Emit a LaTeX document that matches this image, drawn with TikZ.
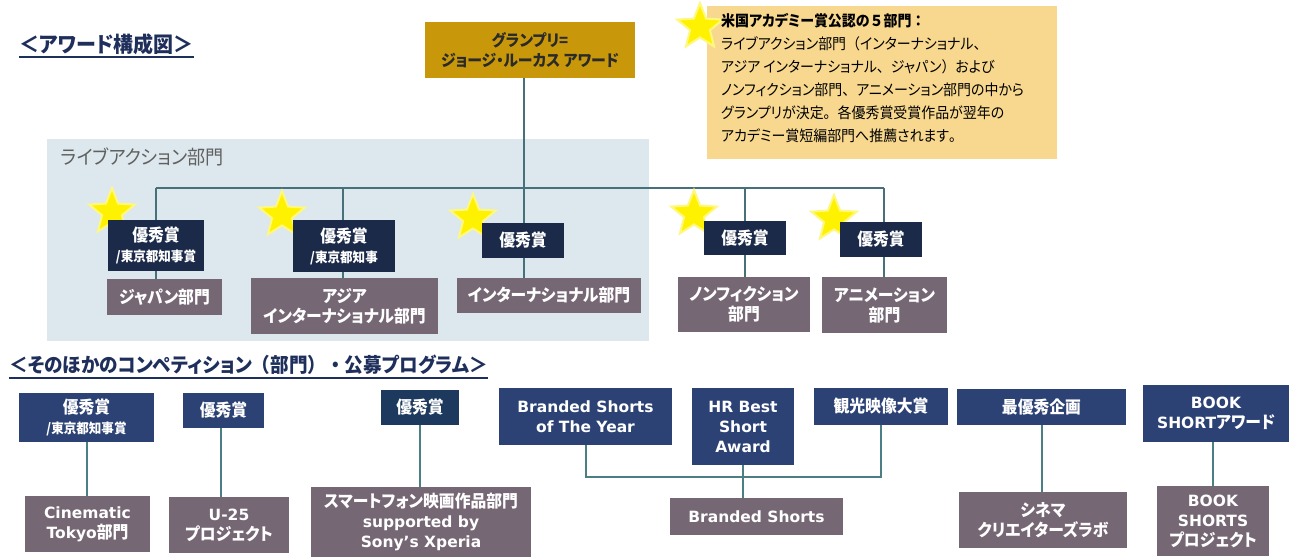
\documentclass[tikz,border=0pt]{standalone}
\usepackage{fontspec}
\setmainfont{Noto Sans CJK JP}[RawFeature=+palt, FakeStretch=0.93]
\newfontfamily\jpfull{Noto Sans CJK JP}[FakeStretch=0.93]
\newfontfamily\lat{DejaVu Sans}
\usetikzlibrary{shapes.geometric}
\definecolor{navyA}{HTML}{1C2A4A}
\definecolor{navyB}{HTML}{2C4275}
\definecolor{navyC}{HTML}{1D3A5E}
\definecolor{mauve}{HTML}{766775}
\definecolor{goldbox}{HTML}{C9980A}
\definecolor{notefill}{HTML}{F7D88E}
\definecolor{bgblue}{HTML}{DCE8ED}
\definecolor{conn}{HTML}{46717A}
\definecolor{connlow}{HTML}{4C7F84}
\definecolor{titlenavy}{HTML}{1F2F5C}
\definecolor{goldtext}{HTML}{2A2A2A}
\definecolor{lbltext}{HTML}{606060}
\tikzset{
  sz/.style 2 args={minimum width=#1, minimum height=#2},
  boxbase/.style={rectangle, inner sep=0pt, align=center, text=white,
    font=\bfseries\fontsize{17}{20}\selectfont},
  award/.style={boxbase, fill=navyA},
  awardb/.style={boxbase, fill=navyB},
  awardc/.style={boxbase, fill=navyC},
  cat/.style={boxbase, fill=mauve},
  conline/.style={draw=conn, line width=2pt},
  conlow/.style={draw=connlow, line width=2pt},
  starmark/.style={star, star points=5, star point ratio=2.3, minimum size=48pt,
    inner sep=0pt, fill=yellow, draw=yellow!50, line width=2pt},
  titletext/.style={anchor=west, inner sep=0pt, text=titlenavy,
    font=\bfseries\fontsize{21.5}{24}\selectfont},
  uline/.style={draw=titlenavy, line width=1.6pt},
}
\newcommand{\subl}[1]{{\fontsize{13.5}{15}\selectfont #1}}
\newcommand{\la}[1]{{\lat\fontsize{15.5}{20}\selectfont #1}}
\newcommand{\fw}[1]{{\jpfull #1}}
\begin{document}
\begin{tikzpicture}[x=1pt,y=-1pt]
\useasboundingbox (0,0) rectangle (1296,558);
% ---------- top section ----------
\node[titletext] (t1) at (19,44) {＜アワード構成図＞};
\coordinate (ul1) at (0,57);
\draw[uline] (t1.west |- ul1) -- (t1.east |- ul1);

\node[rectangle, fill=bgblue, sz={602}{202}, inner sep=0pt] (bg) at (348,240) {};
\node[anchor=west, inner sep=0pt, text=lbltext, font=\fontsize{19.5}{21}\selectfont] (lbl) at (61,157) {ライブアクション部門};

\node[rectangle, fill=notefill, sz={350}{153}, inner sep=0pt] (note) at (882,82.5) {};
\node[starmark] (snote) at (700,27) {};
\node[anchor=north west, inner sep=0pt, align=left, font=\fontsize{15}{23}\selectfont] (notetext) at (721,13)
  {\textbf{米国アカデミー賞公認の\fw{５}部門\fw{：}}\\
   ライブアクション部門\fw{（}インターナショナル\fw{、}\\
   アジア インターナショナル\fw{、}ジャパン\fw{）}および\\
   ノンフィクション部門\fw{、}アニメーション部門の中から\\
   グランプリが決定\fw{。}各優秀賞受賞作品が翌年の\\
   アカデミー賞短編部門へ推薦されます\fw{。}};

\node[boxbase, fill=goldbox, text=goldtext, sz={210}{56}, font=\bfseries\fontsize{16}{20}\selectfont] (gold) at (530,50) {グランプリ=\\ジョージ・ルーカス アワード};

\coordinate (hl) at (156,188);
\coordinate (h2) at (343,188);
\coordinate (gj) at (524,188);
\coordinate (h4) at (745,188);
\coordinate (hr) at (884,188);

% category boxes
\node[cat, sz={115}{36}] (c1) at (164.5,297) {ジャパン部門};
\node[cat, sz={187}{56}] (c2) at (344.5,306) {アジア\\インターナショナル部門};
\node[cat, sz={184}{35}] (c3) at (549,295.5) {インターナショナル部門};
\node[cat, sz={132}{55}] (c4) at (744,304.5) {ノンフィクション\\部門};
\node[cat, sz={125}{56}] (c5) at (884.5,305) {アニメーション\\部門};

\draw[conline] (gold.south -| gj) -- (gj);
\draw[conline] (hl) -- (hr);
\draw[conline] (hl) -- (hl |- c1.north);
\draw[conline] (h2) -- (h2 |- c2.north);
\draw[conline] (gj) -- (gj |- c3.north);
\draw[conline] (h4) -- (h4 |- c4.north);
\draw[conline] (hr) -- (hr |- c5.north);

\node[starmark] (s1) at (112,212) {};
\node[starmark] (s2) at (282,215) {};
\node[starmark] (s3) at (473,218) {};
\node[starmark] (s4) at (694,214) {};
\node[starmark] (s5) at (834,219) {};

\node[award, sz={96}{51}] (a1) at (156,245.5) {優秀賞\\\subl{/東京都知事賞}};
\node[award, sz={102}{52}] (a2) at (344,246) {優秀賞\\\subl{/東京都知事}};
\node[award, sz={82}{35}] (a3) at (523,240.5) {優秀賞};
\node[award, sz={82}{34}] (a4) at (745,238) {優秀賞};
\node[award, sz={82}{35}] (a5) at (881,239.5) {優秀賞};

% ---------- bottom section ----------
\node[titletext, font=\bfseries\fontsize{20}{24}\selectfont] (t2) at (9,365) {＜そのほかのコンペティション\fw{（}部門\fw{）・}公募プログラム＞};
\coordinate (ul2) at (0,378);
\draw[uline] (t2.west |- ul2) -- (t2.east |- ul2);

\node[awardb, sz={135}{49}] (b1) at (86.5,417.5) {優秀賞\\\subl{/東京都知事賞}};
\node[awardb, sz={81}{35}] (b2) at (223.5,410.5) {優秀賞};
\node[awardc, sz={78}{35}] (b3) at (420,407.5) {優秀賞};
\node[awardb, sz={173}{57}] (b4) at (585.5,416.5) {\la{Branded Shorts}\\\la{of The Year}};
\node[awardb, sz={102}{77}] (b5) at (743,426.5) {\la{HR Best}\\\la{Short}\\\la{Award}};
\node[awardb, sz={134}{37}] (b6) at (881,406.5) {観光映像大賞};
\node[awardb, sz={169}{36}] (b7) at (1041.5,407) {最優秀企画};
\node[awardb, sz={146}{57}] (b8) at (1216,413.5) {\la{BOOK}\\\la{SHORT}アワード};

\node[cat, sz={125}{56}] (d1) at (87.5,524) {\la{Cinematic}\\\la{Tokyo}部門};
\node[cat, sz={120}{56}] (d2) at (229,525) {\la{U-25}\\プロジェクト};
\node[cat, sz={220}{70}] (d3) at (421,522) {スマートフォン映画作品部門\\\la{supported by}\\\la{Sony’s Xperia}};
\node[cat, sz={173}{37}] (d4) at (756.5,516.5) {\la{Branded Shorts}};
\node[cat, sz={168}{56}] (d5) at (1043,520) {シネマ\\クリエイターズラボ};
\node[cat, sz={112}{70}] (d6) at (1213,521) {\la{BOOK}\\\la{SHORTS}\\プロジェクト};

\coordinate (v2) at (221,0);
\coordinate (jb) at (743,477);
\draw[conlow] (b1.south) -- (b1.south |- d1.north);
\draw[conlow] (b2.south -| v2) -- (d2.north -| v2);
\draw[conlow] (b3.south) -- (b3.south |- d3.north);
\draw[conlow] (b4.south) -- (b4.south |- jb) -- (b6.south |- jb) -- (b6.south);
\draw[conlow] (b5.south) -- (b5.south |- d4.north);
\draw[conlow] (b7.south) -- (b7.south |- d5.north);
\draw[conlow] (d6.north) -- (d6.north |- b8.south);
\end{tikzpicture}
\end{document}
